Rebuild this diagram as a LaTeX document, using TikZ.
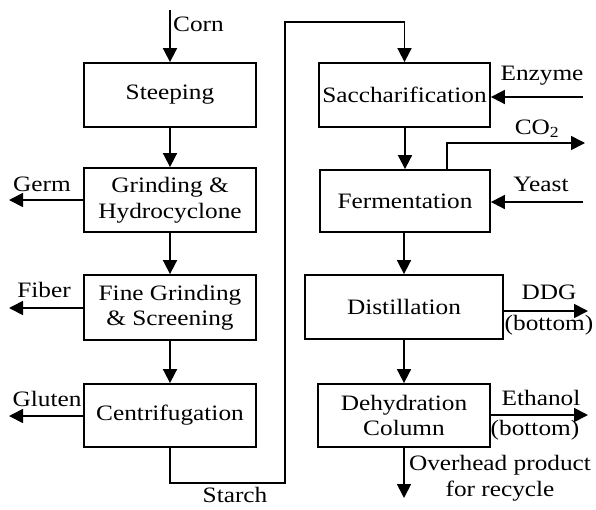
\documentclass[tikz,border=0pt]{standalone}
\usepackage{fontspec}
\setmainfont{Liberation Serif}[FakeStretch=1.15]
\usetikzlibrary{arrows.meta}
\begin{document}
\begin{tikzpicture}[x=1pt,y=-1pt,
  every node/.style={font=\fontsize{22}{25.5}\selectfont, inner sep=0pt},
  box/.style={draw, line width=1.8pt, minimum width=172pt, minimum height=64pt, align=center},
  arr/.style={line width=1.7pt, -{Triangle[length=14pt,width=14pt]}}]
\useasboundingbox (0,0) rectangle (596,509);
% boxes
\node[box] (ste) at (170,95) {Steeping};
\node[box] (gri) at (170,200) {Grinding \&\\Hydrocyclone};
\node[box, minimum height=65pt] (fin) at (170,307.5) {Fine Grinding\\\& Screening};
\node[box, minimum height=63pt] (cen) at (170,415.5) {Centrifugation};
\node[box, minimum width=171pt] (sac) at (404.5,95) {Saccharification};
\node[box, minimum width=170pt, minimum height=62pt] (fer) at (405,201) {Fermentation};
\node[box, minimum width=198pt] (dis) at (404,307) {Distillation};
\node[box, minimum height=63pt] (deh) at (404,415.5) {Dehydration\\Column};
% free ends
\coordinate (cornin) at (170,10);
\coordinate (germout) at (9,200);
\coordinate (fiberout) at (9,308);
\coordinate (glutenout) at (9,416);
\coordinate (s1) at (285,483);
\coordinate (s2) at (285,22);
\coordinate (enzin) at (583,97);
\coordinate (yeastin) at (583,202);
\coordinate (co2a) at (447,143);
\coordinate (co2out) at (585,143);
\coordinate (ddgout) at (588,311);
\coordinate (ethout) at (588,415);
\coordinate (ovhout) at (404,498);
% connectors
\draw[arr] (cornin) -- (ste.north);
\draw[arr] (ste) -- (gri);
\draw[arr] (gri) -- (fin);
\draw[arr] (fin) -- (cen);
\draw[arr] (gri.west) -- (germout);
\draw[arr] (fin.west |- fiberout) -- (fiberout);
\draw[arr] (cen.west |- glutenout) -- (glutenout);
\draw[arr] (cen.south) |- (s1) -- (s2) -| (sac.north);
\draw[arr] (enzin) -- (enzin -| sac.east);
\draw[arr] (sac.south -| fer.north) -- (fer.north);
\draw[arr] (fer.north -| co2a) -- (co2a) -- (co2out);
\draw[arr] (yeastin) -- (yeastin -| fer.east);
\draw[arr] (fer.south -| dis.north) -- (dis.north);
\draw[arr] (ddgout -| dis.east) -- (ddgout);
\draw[arr] (dis) -- (deh);
\draw[arr] (ethout -| deh.east) -- (ethout);
\draw[arr] (deh.south) -- (ovhout);
% labels
\node[anchor=west] (lcorn) at (173,24) {Corn};
\node (lgerm) at (42,184) {Germ};
\node (lfiber) at (44,290) {Fiber};
\node (lgluten) at (47,399) {Gluten};
\node (lstarch) at (235,495) {Starch};
\node (lenz) at (542,76) {Enzyme};
\node (lco2) at (537,129) {CO\textsubscript{2}};
\node (lyeast) at (541,184) {Yeast};
\node (lddg) at (549,292) {DDG};
\node (lddgb) at (549,325) {(bottom)};
\node (leth) at (541,398) {Ethanol};
\node (lethb) at (535,430) {(bottom)};
\node[align=center] (lovh) at (500,478) {Overhead product\\for recycle};
\end{tikzpicture}
\end{document}
